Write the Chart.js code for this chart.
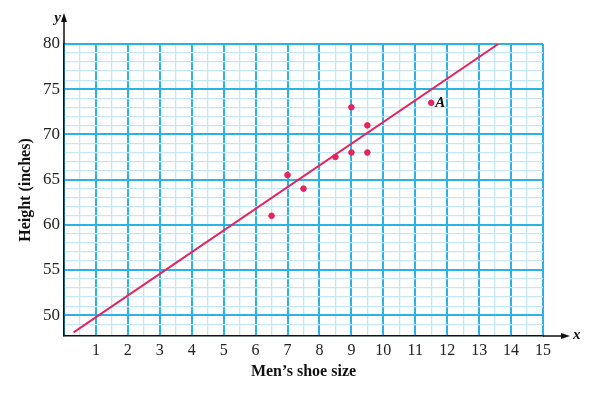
<!DOCTYPE html>
<html>
<head>
<meta charset="utf-8">
<script src="https://cdn.jsdelivr.net/npm/chart.js@4"></script>
<style>
  html, body { margin: 0; padding: 0; background: #fff; }
  #wrap { width: 599px; height: 393px; }
</style>
</head>
<body>
<div id="wrap"><canvas id="shoeChart"></canvas></div>
<script>
// shoe size vs height
const shoeSize = [6.5, 7, 7.5, 8.5, 9, 9, 9.5, 9.5, 11.5];
const height = [61, 65.5, 64, 67.5, 73, 68, 71, 68, 73.5];
// fitted line, end points
const fitX = [0.3, 13.6];
const fitY = [48.1, 80];
const xTicks = [1, 2, 3, 4, 5, 6, 7, 8, 9, 10, 11, 12, 13, 14, 15];
const yTicks = [50, 55, 60, 65, 70, 75, 80];

const pink = "#e3245e";
const major = "#2cb3e6";
const minor = "#c4e6f7";
const serif = "'Liberation Serif', 'Times New Roman', serif";

const extras = {
  id: "extras",
  afterDraw(chart) {
    const c = chart.ctx;
    const a = chart.chartArea;
    c.save();
    c.strokeStyle = "#111";
    c.fillStyle = "#111";
    c.lineWidth = 1.5;
    // axis extensions with arrows
    c.beginPath();
    c.moveTo(a.left, a.top);
    c.lineTo(a.left, a.top - 28);
    c.moveTo(a.right, a.bottom);
    c.lineTo(a.right + 24, a.bottom);
    c.stroke();
    c.beginPath();
    c.moveTo(a.left, a.top - 31);
    c.lineTo(a.left - 3, a.top - 22);
    c.lineTo(a.left + 3, a.top - 22);
    c.closePath();
    c.fill();
    c.beginPath();
    c.moveTo(a.right + 27, a.bottom);
    c.lineTo(a.right + 18, a.bottom - 3);
    c.lineTo(a.right + 18, a.bottom + 3);
    c.closePath();
    c.fill();
    c.font = "italic bold 15px " + serif;
    c.textBaseline = "middle";
    c.textAlign = "right";
    c.fillText("y", a.left - 3, a.top - 26);
    c.textAlign = "left";
    c.fillText("x", a.right + 30, a.bottom - 1);
    // label for point A
    const xs = chart.scales.x, ys = chart.scales.y;
    const i = shoeSize.length - 1;
    c.fillText("A", xs.getPixelForValue(shoeSize[i]) + 4, ys.getPixelForValue(height[i]));
    c.restore();
  }
};

new Chart(document.getElementById("shoeChart"), {
  type: "scatter",
  data: {
    datasets: [
      {
        type: "line",
        data: fitX.map((x, i) => ({ x: x, y: fitY[i] })),
        borderColor: pink,
        borderWidth: 2,
        pointRadius: 0,
        fill: false,
      },
      {
        data: shoeSize.map((x, i) => ({ x: x, y: height[i] })),
        backgroundColor: pink,
        borderColor: pink,
        pointRadius: 2.8,
      },
    ],
  },
  options: {
    responsive: true,
    maintainAspectRatio: false,
    animation: false,
    layout: { padding: { top: 44, right: 56, left: 0, bottom: 0 } },
    plugins: { legend: { display: false }, tooltip: { enabled: false } },
    scales: {
      x: {
        type: "linear",
        min: 0,
        max: 15,
        afterFit: (s) => { s.height = 57; },
        ticks: {
          stepSize: 0.5,
          autoSkip: false,
          maxRotation: 0,
          padding: 5,
          color: "#222",
          font: { family: serif, size: 16 },
          callback: (v) => (xTicks.includes(v) ? String(v) : ""),
        },
        grid: {
          drawTicks: false,
          color: (ctx) => (Number.isInteger(ctx.tick.value) ? major : minor),
          lineWidth: (ctx) => (Number.isInteger(ctx.tick.value) ? 2 : 1.3),
        },
        border: { color: "#111", width: 1.5 },
        title: {
          display: true,
          text: "Men\u2019s shoe size",
          color: "#111",
          font: { family: serif, size: 16, weight: "bold" },
          padding: { bottom: 12 },
        },
      },
      y: {
        min: 47.7,
        max: 80,
        afterFit: (s) => { s.width = 64; },
        ticks: {
          stepSize: 1,
          autoSkip: false,
          padding: 4,
          color: "#222",
          font: { family: serif, size: 17 },
          callback: (v) => (yTicks.includes(v) ? String(v) : ""),
        },
        grid: {
          drawTicks: false,
          color: (ctx) => (ctx.tick.value % 5 === 0 ? major : minor),
          lineWidth: (ctx) => (ctx.tick.value % 5 === 0 ? 2 : 1.3),
        },
        border: { color: "#111", width: 1.5 },
        title: {
          display: true,
          text: "Height (inches)",
          color: "#111",
          font: { family: serif, size: 16, weight: "bold" },
          padding: { top: 16 },
        },
      },
    },
  },
  plugins: [extras],
});
</script>
</body>
</html>
